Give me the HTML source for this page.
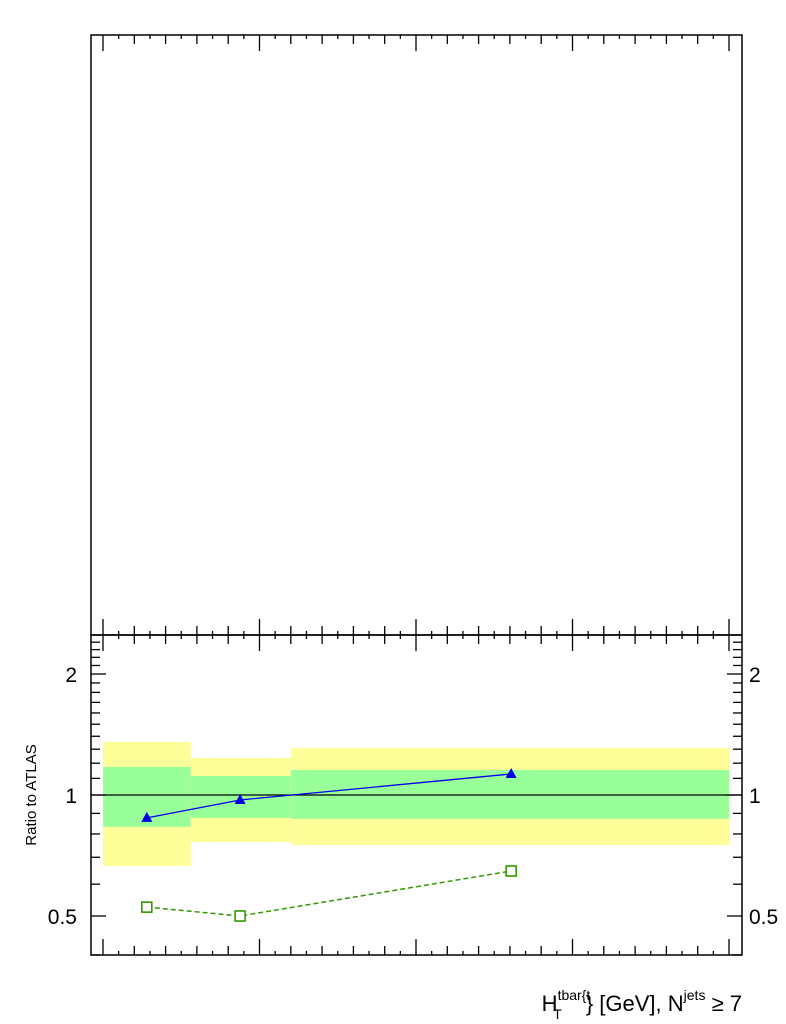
<!DOCTYPE html>
<html><head><meta charset="utf-8"><style>
html,body{margin:0;padding:0;background:#fff;}
svg{display:block;font-family:"Liberation Sans",sans-serif;}
</style></head><body>
<svg id="chart" width="786" height="1024" viewBox="0 0 786 1024" xmlns="http://www.w3.org/2000/svg">
<rect x="91" y="35" width="651" height="600" fill="none" stroke="#000" stroke-width="1.5"/>
<g id="bands"></g>
<g id="ticks"></g>
<g id="series"></g>
<rect x="91" y="635" width="651" height="320" fill="none" stroke="#000" stroke-width="1.5"/>
<text x="77" y="682" font-size="21" text-anchor="end">2</text>
<text x="77" y="803" font-size="21" text-anchor="end">1</text>
<text x="77" y="924" font-size="21" text-anchor="end">0.5</text>
<text x="749" y="682" font-size="21">2</text>
<text x="749" y="803" font-size="21">1</text>
<text x="749" y="924" font-size="21">0.5</text>
<text transform="translate(36,795) rotate(-90)" font-size="15" text-anchor="middle">Ratio to ATLAS</text>
<text x="742" y="1011" font-size="22" text-anchor="end">H<tspan font-size="14" dy="-11">tbar{t</tspan><tspan font-size="14" dx="-37" dy="19">T</tspan><tspan font-size="22" dx="24" dy="-8">} [GeV], N</tspan><tspan font-size="14" dy="-11">jets</tspan><tspan font-size="22" dy="11"> ≥ 7</tspan></text>
</svg>
<script>
const binEdges = [0, 140, 300, 1000];
const yellowLo = [0.666, 0.764, 0.751];
const yellowHi = [1.355, 1.236, 1.309];
const greenLo = [0.833, 0.877, 0.872];
const greenHi = [1.174, 1.115, 1.154];
const pointX = [70, 219, 652];
const blueVals = [0.877, 0.972, 1.128];
const blueErr = [0.005, 0.005, 0.02];
const greenVals = [0.526, 0.5, 0.647];

const NS = "http://www.w3.org/2000/svg";
const X0 = 103, X1 = 729, XMIN = 0, XMAX = 1000;
const YREF = 795, PXLOG2 = 121;
function xs(v){ return X0 + (v - XMIN) / (XMAX - XMIN) * (X1 - X0); }
function ys(v){ return YREF - PXLOG2 * Math.log2(v); }
function mk(tag, attrs, parent){
  const e = document.createElementNS(NS, tag);
  for (const k in attrs) e.setAttribute(k, attrs[k]);
  parent.appendChild(e); return e;
}
const bands = document.getElementById('bands');
for (let i = 0; i < binEdges.length - 1; i++) {
  const xa = xs(binEdges[i]), xb = xs(binEdges[i+1]);
  const y1 = mk('rect', {x: xa, y: ys(yellowHi[i]), width: xb - xa, height: ys(yellowLo[i]) - ys(yellowHi[i]), fill: '#ffff99'}, bands);
  
  
  const g1 = mk('rect', {x: xa, y: ys(greenHi[i]), width: xb - xa, height: ys(greenLo[i]) - ys(greenHi[i]), fill: '#99ff99'}, bands);
  
  
}
const ref = mk('line', {x1: 91, x2: 742, y1: ys(1), y2: ys(1), stroke: '#000', 'stroke-width': 1.3}, bands);



const ticks = document.getElementById('ticks');
const step = (X1 - X0) / 40;
for (let i = 0; i <= 40; i++) {
  const x = X0 + i * step;
  const L = i % 10 === 0 ? 16 : (i % 2 === 0 ? 9 : 4);
  [[35, 1], [635, -1], [635, 1], [955, -1]].forEach(([y, d]) => {
    const t = mk('line', {x1: x, x2: x, y1: y, y2: y + d * L, stroke: '#000', 'stroke-width': 1.3}, ticks);
    
    
  });
}
const yt = [0.4,0.5,0.6,0.7,0.8,0.9,1,1.1,1.2,1.3,1.4,1.5,1.6,1.7,1.8,1.9,2,2.1,2.2,2.3,2.4,2.5];
yt.forEach(v => {
  const major = (v === 0.5 || v === 1 || v === 2);
  const L = major ? 15 : 9;
  const y = ys(v);
  if (y < 636 || y > 955) return;
  [[91, 1], [742, -1]].forEach(([x, d]) => {
    const t = mk('line', {x1: x, x2: x + d * L, y1: y, y2: y, stroke: '#000', 'stroke-width': 1.3}, ticks);
    
    
  });
});

const series = document.getElementById('series');
const gl = mk('polyline', {points: pointX.map((x, i) => xs(x) + ',' + ys(greenVals[i])).join(' '), fill: 'none', stroke: '#339900', 'stroke-width': 1.5, 'stroke-dasharray': '5,3'}, series);


pointX.forEach((x, i) => {
  const m = mk('rect', {x: xs(x) - 5, y: ys(greenVals[i]) - 5, width: 10, height: 10, fill: '#fff', stroke: '#339900', 'stroke-width': 1.6}, series);
  
  
});
const bl = mk('polyline', {points: pointX.map((x, i) => xs(x) + ',' + ys(blueVals[i])).join(' '), fill: 'none', stroke: '#0000ee', 'stroke-width': 1.3}, series);


pointX.forEach((x, i) => {
  const cx = xs(x), cy = ys(blueVals[i]);
  const e = mk('line', {x1: cx, x2: cx, y1: ys(blueVals[i] + blueErr[i]), y2: ys(blueVals[i] - blueErr[i]), stroke: '#0000ee', 'stroke-width': 1.3}, series);
  
  
  const m = mk('polygon', {points: `${cx},${cy-6} ${cx-5.5},${cy+4} ${cx+5.5},${cy+4}`, fill: '#0000ee'}, series);
  
  
});
</script>
</body></html>
